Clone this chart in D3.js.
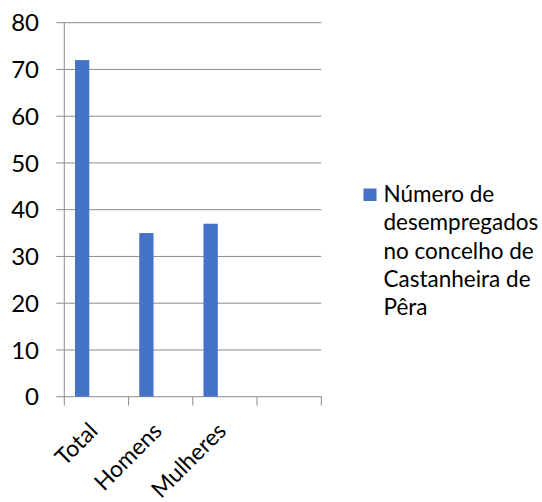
<!DOCTYPE html>
<html>
<head>
<meta charset="utf-8">
<script src="https://cdn.jsdelivr.net/npm/d3@7"></script>
<style>
  html, body { margin: 0; padding: 0; background: #fff; }
  svg { display: block; }
  text { font-family: Lato, "Open Sans", sans-serif; fill: #000; }
</style>
</head>
<body>
<svg id="chart" width="542" height="502"></svg>
<script>
const categories = ["Total", "Homens", "Mulheres", ""];
const seriesName = "Número de desempregados no concelho de Castanheira de Pêra";
const seriesSlots = ["s1", "s2", "s3"];
const values = [72, 35, 37, null];
const yTicks = [0, 10, 20, 30, 40, 50, 60, 70, 80];
const legendLines = ["Número de", "desempregados", "no concelho de", "Castanheira de", "Pêra"];

const svg = d3.select("#chart");
const plotL = 64.3, plotR = 321.3, plotT = 22.7, plotB = 396.7;

const x = d3.scaleBand().domain(categories).range([plotL, plotR]).padding(0);
const slot = d3.scaleBand().domain(seriesSlots).range([0, x.bandwidth()]).paddingInner(0).paddingOuter(0.75);
const y = d3.scaleLinear().domain([0, 80]).range([plotB, plotT]);

const grid = "#8c8c8c";

// gridlines
svg.append("g").selectAll("line").data(yTicks).join("line")
  .attr("x1", plotL - 8).attr("x2", plotR)
  .attr("y1", d => y(d)).attr("y2", d => y(d))
  .attr("stroke", grid).attr("stroke-width", 1);

// y axis line
svg.append("line").attr("x1", plotL).attr("x2", plotL).attr("y1", plotT).attr("y2", plotB)
  .attr("stroke", grid).attr("stroke-width", 1);

// x tick marks
const xTickPos = categories.map(c => x(c)).concat([plotR]);
svg.append("g").selectAll("line").data(xTickPos).join("line")
  .attr("x1", d => d).attr("x2", d => d)
  .attr("y1", plotB).attr("y2", plotB + 9)
  .attr("stroke", grid).attr("stroke-width", 1);

// bars
const data = categories.map((c, i) => ({ c, v: values[i] })).filter(d => d.v != null);
svg.append("g").selectAll("rect").data(data).join("rect")
  .attr("x", d => x(d.c) + slot("s1"))
  .attr("width", slot.bandwidth())
  .attr("y", d => y(d.v))
  .attr("height", d => y(0) - y(d.v))
  .attr("fill", "#4472C4");

// y labels
svg.append("g").selectAll("text").data(yTicks).join("text")
  .attr("x", 39).attr("y", d => y(d))
  .attr("dy", "0.36em")
  .attr("text-anchor", "end")
  .style("font-size", "24px")
  .text(d => d);

// x labels
svg.append("g").selectAll("text").data(categories.filter(c => c)).join("text")
  .attr("transform", c => `translate(${x(c) + x.bandwidth() / 2 - 3},${plotB + 30}) rotate(-45)`)
  .attr("text-anchor", "end")
  .attr("dy", "0.35em")
  .style("font-size", "23px")
  .text(c => c);

// legend
svg.append("rect").attr("x", 363.5).attr("y", 188.5).attr("width", 13).attr("height", 12.5).attr("fill", "#4472C4");
svg.append("g").selectAll("text").data(legendLines).join("text")
  .attr("x", 383.5).attr("y", (d, i) => 202 + i * 28.3)
  .style("font-size", "22.5px")
  .text(d => d);
</script>
</body>
</html>
